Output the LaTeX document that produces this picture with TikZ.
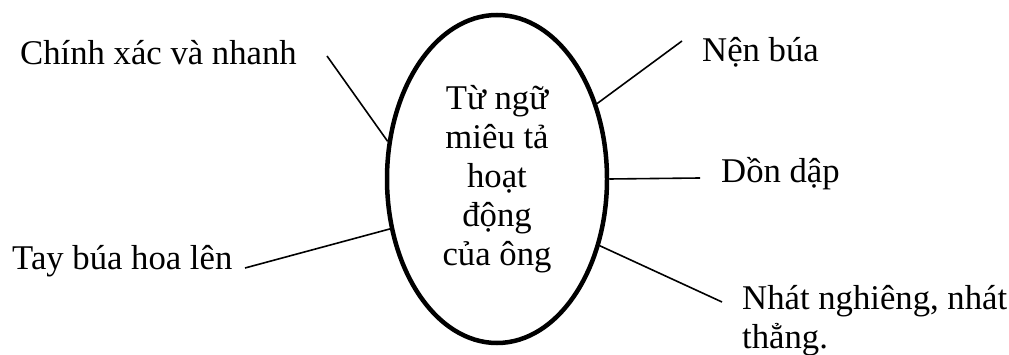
\documentclass[tikz,border=0pt]{standalone}
\usepackage{fontspec}
\setmainfont{Liberation Serif}
\usetikzlibrary{shapes.geometric, positioning}

\begin{document}
\begin{tikzpicture}[x=1pt, y=-1pt,
        every node/.style={font=\fontsize{34.7}{39}\selectfont},
        word/.style={anchor=base west, inner sep=0pt},
        link/.style={line width=1.6pt}]
        \useasboundingbox (0,0) rectangle (1009,355);
        \node[ellipse, draw, line width=4.5pt, minimum width=220pt, minimum height=328pt,
            inner sep=0pt, align=center] (topic) at (497,179)
            {Từ ngữ\\ miêu tả\\ hoạt\\ động\\ của ông};
        \node[word] (chinhxac) at (20,65) {Chính xác và nhanh};
        \node[word] (nenbua) at (702,62) {Nện búa};
        \node[word] (dondap) at (721,183) {Dồn dập};
        \node[word] (taybua) at (12,270) {Tay búa hoa lên};
        \node[word, align=left] (nhat) at (742,348) {Nhát nghiêng, nhát\\ thẳng.};
        \coordinate (c1) at (327,56);
        \coordinate (c2) at (682,41);
        \coordinate (c3) at (700,178);
        \coordinate (c4) at (245,268);
        \coordinate (c5) at (722,302);
        \draw[link] (c1) -- (topic.161);
        \draw[link] (topic.37) -- (c2);
        \draw[link] (topic.0) -- (c3);
        \draw[link] (c4) -- (topic.205);
        \draw[link] (topic.327) -- (c5);
    \end{tikzpicture}
\end{document}
